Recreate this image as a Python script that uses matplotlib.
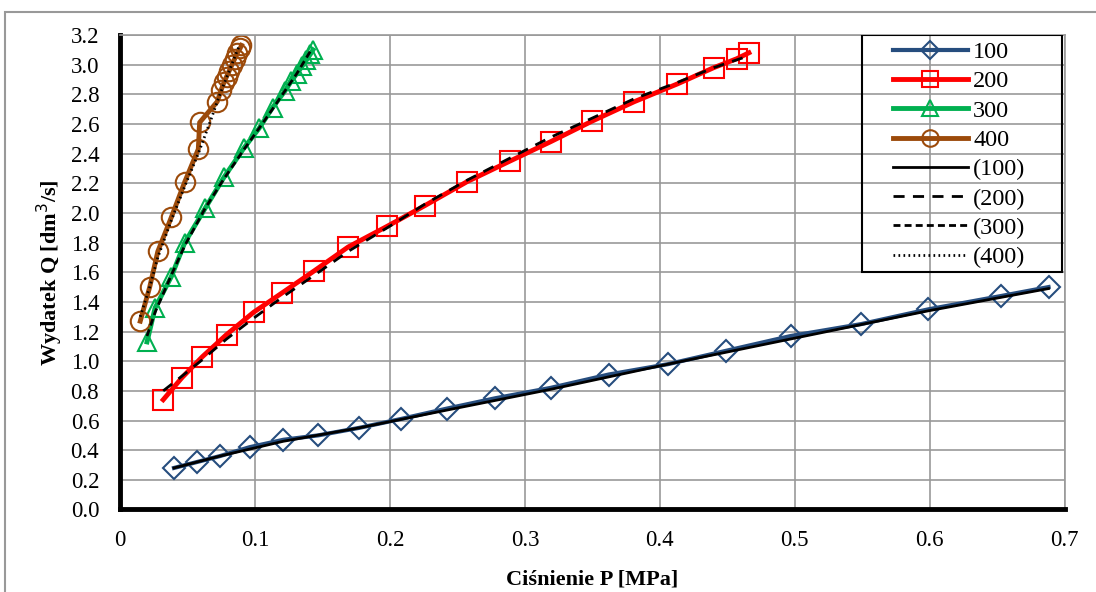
import matplotlib
matplotlib.use("Agg")
import matplotlib.pyplot as plt
from matplotlib.patches import Rectangle

plt.rcParams['font.family'] = ['Liberation Serif', 'DejaVu Serif']

# measured series (P [MPa], Q [dm3/s])
p100 = [0.040, 0.057, 0.074, 0.096, 0.121, 0.147, 0.177, 0.208, 0.242, 0.278,
        0.319, 0.362, 0.406, 0.449, 0.497, 0.549, 0.599, 0.653, 0.688]
q100 = [0.28, 0.32, 0.36, 0.42, 0.47, 0.50, 0.55, 0.61, 0.68, 0.75,
        0.82, 0.91, 0.98, 1.07, 1.17, 1.25, 1.35, 1.44, 1.50]

p200 = [0.032, 0.046, 0.061, 0.079, 0.099, 0.120, 0.144, 0.169, 0.198, 0.226,
        0.257, 0.289, 0.319, 0.350, 0.381, 0.413, 0.440, 0.457, 0.466]
q200 = [0.74, 0.89, 1.03, 1.18, 1.33, 1.46, 1.61, 1.77, 1.91, 2.05,
        2.21, 2.35, 2.48, 2.62, 2.75, 2.87, 2.98, 3.04, 3.08]

p300 = [0.020, 0.026, 0.038, 0.048, 0.063, 0.077, 0.092, 0.103, 0.113, 0.122,
        0.127, 0.131, 0.135, 0.138, 0.141, 0.143]
q300 = [1.13, 1.36, 1.57, 1.80, 2.03, 2.24, 2.44, 2.57, 2.71, 2.82,
        2.89, 2.94, 2.99, 3.03, 3.07, 3.10]

p400 = [0.015, 0.022, 0.028, 0.038, 0.048, 0.058, 0.059, 0.072, 0.075, 0.077,
        0.079, 0.081, 0.083, 0.085, 0.087, 0.089, 0.090]
q400 = [1.27, 1.50, 1.74, 1.97, 2.21, 2.43, 2.61, 2.75, 2.83, 2.88,
        2.92, 2.96, 3.00, 3.04, 3.08, 3.11, 3.13]

# model curves
mp100 = [0.040, 0.074, 0.121, 0.177, 0.242, 0.319, 0.406, 0.497, 0.599, 0.688]
mq100 = [0.28, 0.36, 0.46, 0.55, 0.67, 0.81, 0.98, 1.15, 1.34, 1.49]

mp200 = [0.032, 0.046, 0.061, 0.079, 0.099, 0.120, 0.144, 0.169, 0.198, 0.226,
         0.257, 0.289, 0.319, 0.350, 0.381, 0.413, 0.440, 0.466]
mq200 = [0.80, 0.90, 1.01, 1.15, 1.29, 1.43, 1.58, 1.74, 1.90, 2.06,
         2.22, 2.37, 2.51, 2.64, 2.77, 2.88, 2.98, 3.06]

mp300 = [0.020, 0.026, 0.038, 0.048, 0.063, 0.077, 0.092, 0.103, 0.113, 0.122, 0.131, 0.141]
mq300 = [1.17, 1.33, 1.58, 1.78, 2.03, 2.23, 2.43, 2.57, 2.70, 2.82, 2.94, 3.09]

mp400 = [0.015, 0.022, 0.028, 0.038, 0.048, 0.058, 0.067, 0.074, 0.081, 0.088]
mq400 = [1.30, 1.50, 1.70, 1.95, 2.18, 2.40, 2.62, 2.80, 2.96, 3.12]

fig = plt.figure(figsize=(10.96, 5.92), dpi=100)
fig.patches.append(Rectangle((0.005, -0.02), 1.0, 0.999, transform=fig.transFigure,
                             fill=False, edgecolor='#999999', linewidth=1.5))
ax = fig.add_axes([0.1095, 0.1394, 0.862, 0.8015])

ax.plot(p100, q100, color='#264D7E', lw=3, marker='D', ms=11, mfc='none', mew=1.5, label='100')
ax.plot(p200, q200, color='#FF0000', lw=3.5, marker='s', ms=14, mfc='none', mew=1.5, label='200')
ax.plot(p300, q300, color='#00B050', lw=3.5, marker='^', ms=13, mfc='none', mew=1.5, label='300')
ax.plot(p400, q400, color='#9C4A0A', lw=3.5, marker='o', ms=14, mfc='none', mew=1.5, label='400')

ax.plot(mp100, mq100, color='black', lw=2, label='(100)')
ax.plot(mp200, mq200, color='black', lw=2, dashes=(4, 3), label='(200)')
ax.plot(mp300, mq300, color='black', lw=2, dashes=(2.5, 1.5), label='(300)')
ax.plot(mp400, mq400, color='black', lw=2, dashes=(0.6, 1.2), label='(400)')

ax.set_xlim(0, 0.7)
ax.set_ylim(0, 3.2)
ax.set_xticks([0, 0.1, 0.2, 0.3, 0.4, 0.5, 0.6, 0.7])
ax.set_xticklabels(['0', '0.1', '0.2', '0.3', '0.4', '0.5', '0.6', '0.7'])
ax.set_yticks([i * 0.2 for i in range(17)])
ax.set_yticklabels(['%.1f' % (i * 0.2) for i in range(17)])
ax.tick_params(length=0, labelsize=16.5)
ax.tick_params(axis='x', pad=15)
ax.tick_params(axis='y', pad=15)
ax.grid(True, color='#999999', lw=1.2)
ax.set_axisbelow(True)
for s in ['left', 'bottom']:
    ax.spines[s].set_linewidth(3.5)
    ax.spines[s].set_color('black')
for s in ['top', 'right']:
    ax.spines[s].set_linewidth(1.2)
    ax.spines[s].set_color('#999999')

ax.set_xlabel('Ciśnienie P [MPa]', fontsize=16, fontweight='bold', labelpad=13)
ax.set_ylabel('Wydatek Q [dm$^3$/s]', fontsize=16, fontweight='bold', labelpad=4)

# legend box (Excel style: wide frame, transparent)
ax.add_patch(Rectangle((0.785, 0.5005), 0.212, 0.4995, transform=ax.transAxes,
                       fill=False, edgecolor='black', lw=1.5, zorder=5))
leg = ax.legend(loc='upper left', bbox_to_anchor=(0.818, 0.987), borderaxespad=0,
                fontsize=17.5, handlelength=3.1, handletextpad=0.2, labelspacing=0.3,
                markerscale=0.85, frameon=False, borderpad=0)

fig.savefig('out.png', dpi=100)
